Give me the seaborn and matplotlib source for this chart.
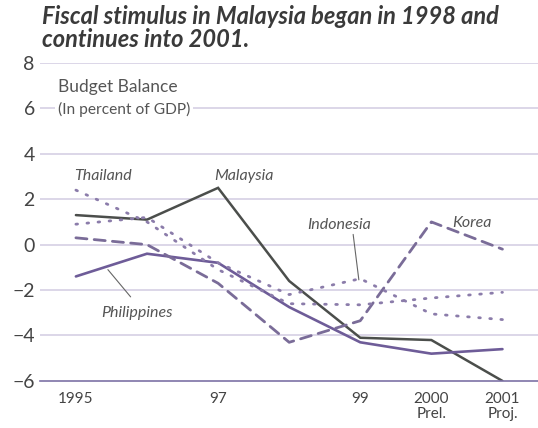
import numpy as np
import pandas as pd
import seaborn as sns
import matplotlib.pyplot as plt

years = [1995, 1996, 1997, 1998, 1999, 2000, 2001]
tick_labels = ['1995', '', '97', '', '99', '2000\nPrel.', '2001\nProj.']

malaysia = [1.3, 1.1, 2.5, -1.6, -4.1, -4.2, -6.0]
philippines = [-1.4, -0.4, -0.8, -2.75, -4.3, -4.8, -4.6]
korea = [0.3, 0.0, -1.7, -4.3, -3.35, 1.0, -0.2]
thailand = [2.4, 1.0, -1.1, -2.6, -2.65, -2.35, -2.1]
indonesia = [0.9, 1.2, -0.8, -2.2, -1.5, -3.05, -3.3]

sns.set_style('white')
plt.rcParams['font.family'] = ['Lato', 'DejaVu Sans']

fig = plt.figure(figsize=(5.38, 4.28), dpi=100)
ax = fig.add_axes([0.075, 0.11, 0.925, 0.743])

pos = np.arange(len(years))
grid_col = '#d2cbe2'
txt_col = '#555555'

series = [
    (malaysia, '#4b4e4b', '-', 1.8),
    (philippines, '#6e5c98', '-', 1.9),
    (korea, '#7a6c98', (0, (4, 2.6)), 2.0),
    (thailand, '#8b7caa', (0, (0.6, 3.4)), 2.0),
    (indonesia, '#8b7caa', (0, (0.6, 3.4)), 2.0),
]
for vals, col, ls, lw in series:
    sns.lineplot(x=pos, y=vals, ax=ax, color=col, linestyle=ls, linewidth=lw,
                 dash_capstyle='round', solid_joinstyle='miter')

ax.set_xlim(-0.5, 6.5)
ax.set_ylim(-6, 8)
ax.set_yticks(range(-6, 9, 2))
ax.set_yticklabels(['\u22126', '\u22124', '\u22122', '0', '2', '4', '6', '8'],
                   fontsize=14, color='#444444')
for y in range(-4, 9, 2):
    ax.axhline(y, color=grid_col, linewidth=1.1, zorder=0)

ax.set_xticks(pos)
ax.set_xticklabels(tick_labels, fontsize=11, color='#444444', linespacing=1.1)
ax.set_xticks(np.arange(-0.5, 6.6, 1), minor=True)
ax.tick_params(axis='x', which='major', length=0, pad=8)
ax.tick_params(axis='x', which='minor', direction='in', length=8, color='#7d72a6', width=1.2)
ax.tick_params(axis='y', length=0, pad=4)

for s in ['top', 'right', 'left']:
    ax.spines[s].set_visible(False)
ax.spines['bottom'].set_color('#7d72a6')
ax.spines['bottom'].set_linewidth(1.2)
ax.set_xlabel('')
ax.set_ylabel('')

ax.text(-0.25, 6.95, 'Budget Balance', fontsize=12.5, color=txt_col, va='center')
ax.text(-0.25, 5.95, '(In percent of GDP)', fontsize=11.2, color=txt_col, va='center',
        bbox=dict(facecolor='white', edgecolor='none', pad=2))

lab = dict(fontsize=11.5, color=txt_col, style='italic', va='center')
ax.text(-0.03, 3.0, 'Thailand', **lab)
ax.text(1.95, 3.0, 'Malaysia', **lab)
ax.text(3.25, 0.85, 'Indonesia', **lab)
ax.text(5.3, 0.95, 'Korea', **lab)
ax.text(0.35, -3.0, 'Philippines', **lab)

ax.plot([3.9, 3.98], [0.45, -1.55], color='#666666', linewidth=0.8)
ax.plot([0.45, 0.77], [-1.1, -2.3], color='#666666', linewidth=0.8)

fig.text(0.078, 0.988, 'Fiscal stimulus in Malaysia began in 1998 and\ncontinues into 2001.',
         fontsize=17, fontweight='bold', style='italic', color='#3a3a3a',
         va='top', linespacing=0.98)

fig.savefig('out.png', dpi=100)
